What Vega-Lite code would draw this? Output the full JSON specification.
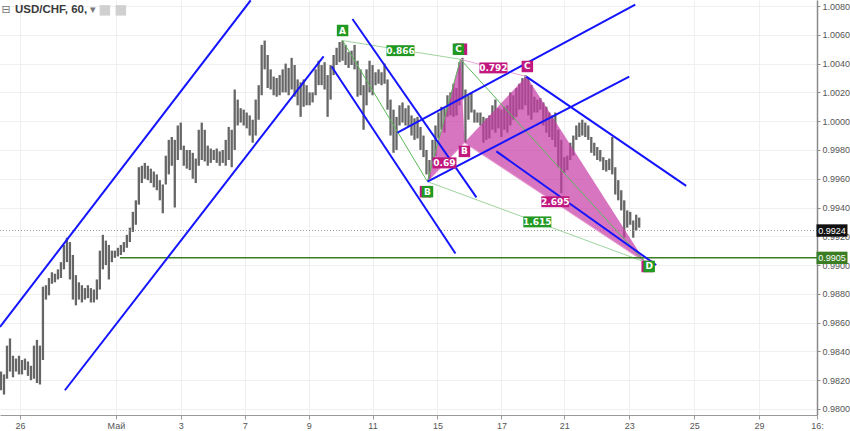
{
"$schema":"https://vega.github.io/schema/vega-lite/v6.json",
"width":817,"height":415,
"autosize":{"type":"none"},
"padding":{"left":0,"top":0,"right":33,"bottom":16},
"background":"white",
"config":{"view":{"stroke":null},"font":"Liberation Sans"},
"datasets":{
"candles":[
{"k":0,"p":0.9813,"p2":0.9826},{"k":1,"p":0.9810,"p2":0.9824},{"k":2,"p":0.9821,"p2":0.9844},{"k":3,"p":0.9826,"p2":0.9849},{"k":4,"p":0.9822,"p2":0.9837},{"k":5,"p":0.9826,"p2":0.9835},{"k":6,"p":0.9824,"p2":0.9837},{"k":7,"p":0.9824,"p2":0.9834},{"k":8,"p":0.9827,"p2":0.9835},{"k":9,"p":0.9823,"p2":0.9833},
{"k":10,"p":0.9820,"p2":0.9830},{"k":11,"p":0.9821,"p2":0.9844},{"k":12,"p":0.9818,"p2":0.9848},{"k":13,"p":0.9817,"p2":0.9844},{"k":14,"p":0.9834,"p2":0.9885},{"k":15,"p":0.9876,"p2":0.9886},{"k":16,"p":0.9879,"p2":0.9891},{"k":17,"p":0.9887,"p2":0.9895},{"k":18,"p":0.9888,"p2":0.9894},{"k":19,"p":0.9890,"p2":0.9897},
{"k":20,"p":0.9891,"p2":0.9902},{"k":21,"p":0.9897,"p2":0.9914},{"k":22,"p":0.9902,"p2":0.9919},{"k":23,"p":0.9890,"p2":0.9916},{"k":24,"p":0.9876,"p2":0.9907},{"k":25,"p":0.9872,"p2":0.9893},{"k":26,"p":0.9876,"p2":0.9888},{"k":27,"p":0.9874,"p2":0.9886},{"k":28,"p":0.9876,"p2":0.9884},{"k":29,"p":0.9877,"p2":0.9886},
{"k":30,"p":0.9874,"p2":0.9884},{"k":31,"p":0.9874,"p2":0.9883},{"k":32,"p":0.9876,"p2":0.9890},{"k":33,"p":0.9883,"p2":0.9910},{"k":34,"p":0.9897,"p2":0.9921},{"k":35,"p":0.9900,"p2":0.9917},{"k":36,"p":0.9890,"p2":0.9914},{"k":37,"p":0.9902,"p2":0.9910},{"k":38,"p":0.9905,"p2":0.9910},{"k":39,"p":0.9906,"p2":0.9912},
{"k":40,"p":0.9907,"p2":0.9914},{"k":41,"p":0.9909,"p2":0.9916},{"k":42,"p":0.9912,"p2":0.9921},{"k":43,"p":0.9916,"p2":0.9926},{"k":44,"p":0.9923,"p2":0.9937},{"k":45,"p":0.9928,"p2":0.9945},{"k":46,"p":0.9942,"p2":0.9968},{"k":47,"p":0.9957,"p2":0.9969},{"k":48,"p":0.9960,"p2":0.9971},{"k":49,"p":0.9959,"p2":0.9969},
{"k":50,"p":0.9957,"p2":0.9967},{"k":51,"p":0.9954,"p2":0.9965},{"k":52,"p":0.9952,"p2":0.9963},{"k":53,"p":0.9945,"p2":0.9959},{"k":54,"p":0.9936,"p2":0.9956},{"k":55,"p":0.9956,"p2":0.9976},{"k":56,"p":0.9963,"p2":0.9987},{"k":57,"p":0.9969,"p2":0.9989},{"k":58,"p":0.9940,"p2":0.9987},{"k":59,"p":0.9973,"p2":0.9997},
{"k":60,"p":0.9980,"p2":0.9999},{"k":61,"p":0.9969,"p2":0.9983},{"k":62,"p":0.9967,"p2":0.9980},{"k":63,"p":0.9966,"p2":0.9980},{"k":64,"p":0.9960,"p2":0.9978},{"k":65,"p":0.9957,"p2":0.9974},{"k":66,"p":0.9969,"p2":0.9994},{"k":67,"p":0.9973,"p2":0.9999},{"k":68,"p":0.9972,"p2":0.9994},{"k":69,"p":0.9969,"p2":0.9983},
{"k":70,"p":0.9971,"p2":0.9981},{"k":71,"p":0.9973,"p2":0.9980},{"k":72,"p":0.9971,"p2":0.9981},{"k":73,"p":0.9969,"p2":0.9979},{"k":74,"p":0.9971,"p2":0.9980},{"k":75,"p":0.9969,"p2":0.9987},{"k":76,"p":0.9973,"p2":0.9996},{"k":77,"p":0.9968,"p2":0.9994},{"k":78,"p":0.9980,"p2":1.0022},{"k":79,"p":0.9997,"p2":1.0015},
{"k":80,"p":0.9999,"p2":1.0009},{"k":81,"p":0.9997,"p2":1.0008},{"k":82,"p":0.9995,"p2":1.0006},{"k":83,"p":0.9990,"p2":1.0004},{"k":84,"p":0.9985,"p2":1.0001},{"k":85,"p":0.9990,"p2":1.0015},{"k":86,"p":1.0001,"p2":1.0025},{"k":87,"p":1.0018,"p2":1.0053},{"k":88,"p":1.0036,"p2":1.0056},{"k":89,"p":1.0023,"p2":1.0046},
{"k":90,"p":1.0022,"p2":1.0036},{"k":91,"p":1.0018,"p2":1.0031},{"k":92,"p":1.0017,"p2":1.0030},{"k":93,"p":1.0018,"p2":1.0032},{"k":94,"p":1.0020,"p2":1.0036},{"k":95,"p":1.0020,"p2":1.0040},{"k":96,"p":1.0018,"p2":1.0037},{"k":97,"p":1.0022,"p2":1.0044},{"k":98,"p":1.0017,"p2":1.0039},{"k":99,"p":1.0011,"p2":1.0029},
{"k":100,"p":1.0003,"p2":1.0027},{"k":101,"p":1.0010,"p2":1.0029},{"k":102,"p":1.0011,"p2":1.0025},{"k":103,"p":1.0011,"p2":1.0020},{"k":104,"p":1.0013,"p2":1.0020},{"k":105,"p":1.0018,"p2":1.0036},{"k":106,"p":1.0025,"p2":1.0042},{"k":107,"p":1.0025,"p2":1.0039},{"k":108,"p":1.0022,"p2":1.0041},{"k":109,"p":1.0003,"p2":1.0032},
{"k":110,"p":1.0015,"p2":1.0039},{"k":111,"p":1.0032,"p2":1.0046},{"k":112,"p":1.0039,"p2":1.0051},{"k":113,"p":1.0041,"p2":1.0055},{"k":114,"p":1.0042,"p2":1.0056},{"k":115,"p":1.0039,"p2":1.0053},{"k":116,"p":1.0037,"p2":1.0048},{"k":117,"p":1.0039,"p2":1.0049},{"k":118,"p":1.0036,"p2":1.0053},{"k":119,"p":1.0017,"p2":1.0042},
{"k":120,"p":1.0018,"p2":1.0036},{"k":121,"p":0.9994,"p2":1.0025},{"k":122,"p":1.0011,"p2":1.0036},{"k":123,"p":1.0020,"p2":1.0042},{"k":124,"p":1.0018,"p2":1.0039},{"k":125,"p":1.0025,"p2":1.0034},{"k":126,"p":1.0026,"p2":1.0036},{"k":127,"p":1.0025,"p2":1.0034},{"k":128,"p":1.0026,"p2":1.0040},{"k":129,"p":1.0008,"p2":1.0029},
{"k":130,"p":0.9990,"p2":1.0015},{"k":131,"p":0.9978,"p2":1.0008},{"k":132,"p":0.9980,"p2":1.0003},{"k":133,"p":0.9997,"p2":1.0011},{"k":134,"p":0.9999,"p2":1.0013},{"k":135,"p":0.9997,"p2":1.0009},{"k":136,"p":0.9996,"p2":1.0011},{"k":137,"p":0.9990,"p2":1.0004},{"k":138,"p":0.9987,"p2":1.0002},{"k":139,"p":0.9988,"p2":1.0003},
{"k":140,"p":0.9980,"p2":0.9996},{"k":141,"p":0.9975,"p2":0.9990},{"k":142,"p":0.9963,"p2":0.9980},{"k":143,"p":0.9959,"p2":0.9973},{"k":144,"p":0.9969,"p2":0.9987},{"k":145,"p":0.9976,"p2":0.9997},{"k":146,"p":0.9988,"p2":1.0006},{"k":147,"p":0.9994,"p2":1.0010},{"k":148,"p":0.9992,"p2":1.0009},{"k":149,"p":1.0003,"p2":1.0018},
{"k":150,"p":1.0004,"p2":1.0020},{"k":151,"p":1.0003,"p2":1.0026},{"k":152,"p":1.0004,"p2":1.0023},{"k":153,"p":1.0011,"p2":1.0041},{"k":154,"p":1.0015,"p2":1.0044},{"k":155,"p":0.9985,"p2":1.0022},{"k":156,"p":1.0001,"p2":1.0018},{"k":157,"p":1.0006,"p2":1.0020},{"k":158,"p":0.9999,"p2":1.0008},{"k":159,"p":0.9999,"p2":1.0006},
{"k":160,"p":0.9997,"p2":1.0006},{"k":161,"p":0.9985,"p2":1.0003},{"k":162,"p":0.9987,"p2":1.0002},{"k":163,"p":0.9988,"p2":1.0004},{"k":164,"p":0.9994,"p2":1.0011},{"k":165,"p":0.9992,"p2":1.0015},{"k":166,"p":0.9995,"p2":1.0009},{"k":167,"p":0.9989,"p2":1.0008},{"k":168,"p":0.9994,"p2":1.0010},{"k":169,"p":0.9992,"p2":1.0011},
{"k":170,"p":0.9997,"p2":1.0020},{"k":171,"p":1.0001,"p2":1.0018},{"k":172,"p":1.0003,"p2":1.0023},{"k":173,"p":1.0008,"p2":1.0026},{"k":174,"p":1.0008,"p2":1.0030},{"k":175,"p":1.0011,"p2":1.0032},{"k":176,"p":1.0004,"p2":1.0030},{"k":177,"p":1.0001,"p2":1.0025},{"k":178,"p":1.0006,"p2":1.0017},{"k":179,"p":1.0006,"p2":1.0015},
{"k":180,"p":1.0008,"p2":1.0016},{"k":181,"p":0.9997,"p2":1.0013},{"k":182,"p":0.9992,"p2":1.0010},{"k":183,"p":0.9989,"p2":1.0006},{"k":184,"p":0.9987,"p2":1.0004},{"k":185,"p":0.9982,"p2":1.0006},{"k":186,"p":0.9968,"p2":0.9994},{"k":187,"p":0.9950,"p2":0.9987},{"k":188,"p":0.9964,"p2":0.9975},{"k":189,"p":0.9966,"p2":0.9976},
{"k":190,"p":0.9973,"p2":0.9985},{"k":191,"p":0.9976,"p2":0.9990},{"k":192,"p":0.9987,"p2":0.9997},{"k":193,"p":0.9989,"p2":0.9999},{"k":194,"p":0.9990,"p2":1.0001},{"k":195,"p":0.9989,"p2":0.9999},{"k":196,"p":0.9987,"p2":0.9997},{"k":197,"p":0.9978,"p2":0.9989},{"k":198,"p":0.9976,"p2":0.9985},{"k":199,"p":0.9973,"p2":0.9982},
{"k":200,"p":0.9972,"p2":0.9980},{"k":201,"p":0.9966,"p2":0.9975},{"k":202,"p":0.9965,"p2":0.9973},{"k":203,"p":0.9966,"p2":0.9974},{"k":204,"p":0.9963,"p2":0.9989},{"k":205,"p":0.9949,"p2":0.9968},{"k":206,"p":0.9945,"p2":0.9959},{"k":207,"p":0.9938,"p2":0.9952},{"k":208,"p":0.9919,"p2":0.9945},{"k":209,"p":0.9926,"p2":0.9938},
{"k":210,"p":0.9928,"p2":0.9937},{"k":211,"p":0.9919,"p2":0.9931},{"k":212,"p":0.9924,"p2":0.9935},{"k":213,"p":0.9926,"p2":0.9933}
],
"lines":[
{"id":"cur","g":"cur","k":-0.33,"p":0.9924},{"id":"cur","g":"cur","k":272.33,"p":0.9924},
{"id":"h","g":"h","k":39.67,"p":0.9905},{"id":"h","g":"h","k":272.33,"p":0.9905},
{"id":"b1","g":"b","k":-0.33,"p":0.9857},{"id":"b1","g":"b","k":83.33,"p":1.0084},
{"id":"b2","g":"b","k":21.33,"p":0.9813},{"id":"b2","g":"b","k":107.67,"p":1.0045},
{"id":"b3","g":"b","k":117.3,"p":1.0071},{"id":"b3","g":"b","k":158.67,"p":0.9947},
{"id":"b4","g":"b","k":110.33,"p":1.0038},{"id":"b4","g":"b","k":151.67,"p":0.9908},
{"id":"b5","g":"b","k":142.33,"p":0.9958},{"id":"b5","g":"b","k":209.67,"p":1.0031},
{"id":"b6","g":"b","k":132.33,"p":0.9992},{"id":"b6","g":"b","k":211.67,"p":1.0081},
{"id":"b7","g":"b","k":175.33,"p":1.0031},{"id":"b7","g":"b","k":228.67,"p":0.9955},
{"id":"b8","g":"b","k":165.33,"p":0.9979},{"id":"b8","g":"b","k":218.67,"p":0.9900},
{"id":"gab","g":"g","k":114,"p":1.0056},{"id":"gab","g":"g","k":142.33,"p":0.9958},
{"id":"gbc","g":"g","k":142.33,"p":0.9958},{"id":"gbc","g":"g","k":153.33,"p":1.0043},
{"id":"gcd","g":"g","k":153.33,"p":1.0043},{"id":"gcd","g":"g","k":215,"p":0.9902},
{"id":"gac","g":"lg","k":114,"p":1.0056},{"id":"gac","g":"lg","k":153.33,"p":1.0043},
{"id":"gbd","g":"lg","k":142.33,"p":0.9958},{"id":"gbd","g":"lg","k":215,"p":0.9902},
{"id":"pxb","g":"pk","k":142.33,"p":0.9958},{"id":"pxb","g":"pk","k":154.67,"p":0.9985},
{"id":"pac","g":"pk","k":153.33,"p":1.0043},{"id":"pac","g":"pk","k":175.33,"p":1.0031},
{"id":"pbd","g":"pk","k":154.67,"p":0.9985},{"id":"pbd","g":"pk","k":215,"p":0.9902}
],
"polys":[
{"id":1,"o":1,"k":142.33,"p":0.9958},{"id":1,"o":2,"k":153.33,"p":1.0043},{"id":1,"o":3,"k":154.67,"p":0.9985},
{"id":2,"o":1,"k":154.67,"p":0.9985},{"id":2,"o":2,"k":175.33,"p":1.0031},{"id":2,"o":3,"k":215,"p":0.9902}
],
"labels":[
{"k":153.67,"p":1.0050,"t":"","c":"m"},
{"k":141.67,"p":0.9951,"t":"","c":"m"},
{"k":215.67,"p":0.9899,"t":"","c":"m"},
{"k":154.67,"p":0.9979,"t":"B","c":"m"},
{"k":175.67,"p":1.0038,"t":"C","c":"m"},
{"k":114,"p":1.0063,"t":"A","c":"g"},
{"k":142.33,"p":0.9951,"t":"B","c":"g"},
{"k":152.67,"p":1.0050,"t":"C","c":"g"},
{"k":216.33,"p":0.9899,"t":"D","c":"g"},
{"k":133.33,"p":1.0049,"t":"0.866","c":"g"},
{"k":179,"p":0.9930,"t":"1.615","c":"g"},
{"k":148,"p":0.9971,"t":"0.69","c":"m"},
{"k":164.33,"p":1.0037,"t":"0.792","c":"m"},
{"k":185,"p":0.9944,"t":"2.695","c":"m"}
],
"tags":[
{"k":277.33,"p":0.9924,"t":"0.9924","c":"k"},
{"k":277.33,"p":0.9905,"t":"0.9905","c":"g"}
],
"title":[{"k":4.67,"p":1.0077,"t":"USD/CHF, 60,"}],
"icons":[{"k":1.67,"p":1.0077,"t":"⊟"},{"k":30.67,"p":1.0077,"t":"▾"}],
"boxes":[{"k":34.67,"p":1.0077},{"k":40,"p":1.0077}]
},
"encoding":{
"x":{"field":"k","type":"quantitative","scale":{"domain":[-0.33,272.33],"nice":false,"zero":false},
"axis":{"orient":"bottom","title":null,"values":[6.33,38.33,60,81.33,102.67,124,145.67,167,188,209.67,231.33,253,272.33],
"labelExpr":"datum.value<10?'26':datum.value<40?'Май':datum.value<70?'3':datum.value<90?'7':datum.value<110?'9':datum.value<130?'11':datum.value<150?'15':datum.value<175?'17':datum.value<200?'21':datum.value<220?'23':datum.value<240?'25':datum.value<260?'29':'16:'",
"grid":true,"gridColor":"#efefef","domainColor":"#9a9a9a","tickColor":"#9a9a9a","tickSize":4,"labelFontSize":9,"labelColor":"#555","labelPadding":2,"labelOverlap":false,"labelBound":false,"labelFlush":false,"zindex":0}},
"y":{"field":"p","type":"quantitative","scale":{"domain":[0.97958,1.00842],"nice":false,"zero":false},
"axis":{"orient":"right","title":null,"values":[0.98,0.982,0.984,0.986,0.988,0.99,0.992,0.994,0.996,0.998,1.0,1.002,1.004,1.006,1.008],"format":".4f",
"grid":true,"gridColor":"#efefef","domainColor":"#8a8a8a","domainWidth":1.5,"tickColor":"#8a8a8a","tickSize":3,"labelFontSize":9,"labelColor":"#555","labelPadding":2,"zindex":0}}
},
"layer":[
{"data":{"name":"candles"},"mark":{"type":"rule","color":"#666666","strokeWidth":2.3},"encoding":{"y2":{"field":"p2"}}},
{"data":{"name":"lines"},"transform":[{"filter":"datum.g=='cur'"}],"mark":{"type":"line","color":"#9a9a9a","strokeWidth":1,"strokeDash":[1,2],"clip":true},"encoding":{"detail":{"field":"id"}}},
{"data":{"name":"polys"},"mark":{"type":"line","interpolate":"linear-closed","fill":"#c83aa5","fillOpacity":0.7,"stroke":"#c83aa5","strokeOpacity":0.3,"strokeWidth":1,"clip":true},"encoding":{"detail":{"field":"id"},"order":{"field":"o"}}},
{"data":{"name":"lines"},"transform":[{"filter":"datum.g=='lg'"}],"mark":{"type":"line","color":"#9fd49f","strokeWidth":1,"clip":true},"encoding":{"detail":{"field":"id"}}},
{"data":{"name":"lines"},"transform":[{"filter":"datum.g=='g'"}],"mark":{"type":"line","color":"#5cb85c","strokeWidth":1,"clip":true},"encoding":{"detail":{"field":"id"}}},
{"data":{"name":"lines"},"transform":[{"filter":"datum.g=='pk'"}],"mark":{"type":"line","color":"#eba6d6","strokeWidth":1,"clip":true},"encoding":{"detail":{"field":"id"}}},
{"data":{"name":"lines"},"transform":[{"filter":"datum.g=='h'"}],"mark":{"type":"line","color":"#3b7d23","strokeWidth":1.5,"clip":true},"encoding":{"detail":{"field":"id"}}},
{"data":{"name":"lines"},"transform":[{"filter":"datum.g=='b'"}],"mark":{"type":"line","color":"#1414ff","strokeWidth":2,"clip":true},"encoding":{"detail":{"field":"id"}}},
{"data":{"name":"labels"},"transform":[{"filter":"length(datum.t)<2"}],"mark":{"type":"point","shape":"M-1,-1H1V1H-1Z","size":132,"filled":true,"opacity":1,"strokeWidth":0},
 "encoding":{"color":{"condition":{"test":"datum.c=='g'","value":"#229922"},"value":"#c0187e"}}},
{"data":{"name":"labels"},"transform":[{"filter":"length(datum.t)==5"}],"mark":{"type":"point","shape":"M-1,-0.39H1V0.39H-1Z","size":784,"filled":true,"opacity":1,"strokeWidth":0},
 "encoding":{"color":{"condition":{"test":"datum.c=='g'","value":"#229922"},"value":"#c0187e"}}},
{"data":{"name":"labels"},"transform":[{"filter":"length(datum.t)==4"}],"mark":{"type":"point","shape":"M-1,-0.46H1V0.46H-1Z","size":576,"filled":true,"opacity":1,"strokeWidth":0},
 "encoding":{"color":{"condition":{"test":"datum.c=='g'","value":"#229922"},"value":"#c0187e"}}},
{"data":{"name":"labels"},"mark":{"type":"text","color":"white","font":"DejaVu Sans","fontSize":9,"fontWeight":"bold","align":"center","baseline":"middle"},"encoding":{"text":{"field":"t"}}},
{"data":{"name":"tags"},"mark":{"type":"point","shape":"M-1,-0.4H1V0.4H-1Z","size":961,"filled":true,"opacity":1,"strokeWidth":0},
 "encoding":{"color":{"condition":{"test":"datum.c=='g'","value":"#3b7d23"},"value":"#111111"}}},
{"data":{"name":"tags"},"mark":{"type":"text","color":"white","fontSize":9,"align":"center","baseline":"middle"},"encoding":{"text":{"field":"t"}}},
{"data":{"name":"title"},"mark":{"type":"text","color":"#3a3a3a","fontSize":11.5,"fontWeight":"bold","align":"left","baseline":"middle"},"encoding":{"text":{"field":"t"}}},
{"data":{"name":"icons"},"mark":{"type":"text","color":"#777777","font":"DejaVu Sans","fontSize":11,"align":"center","baseline":"middle"},"encoding":{"text":{"field":"t"}}},
{"data":{"name":"boxes"},"mark":{"type":"point","shape":"square","size":110,"filled":true,"opacity":1,"color":"#d0d0d0","strokeWidth":0}}
]
}
